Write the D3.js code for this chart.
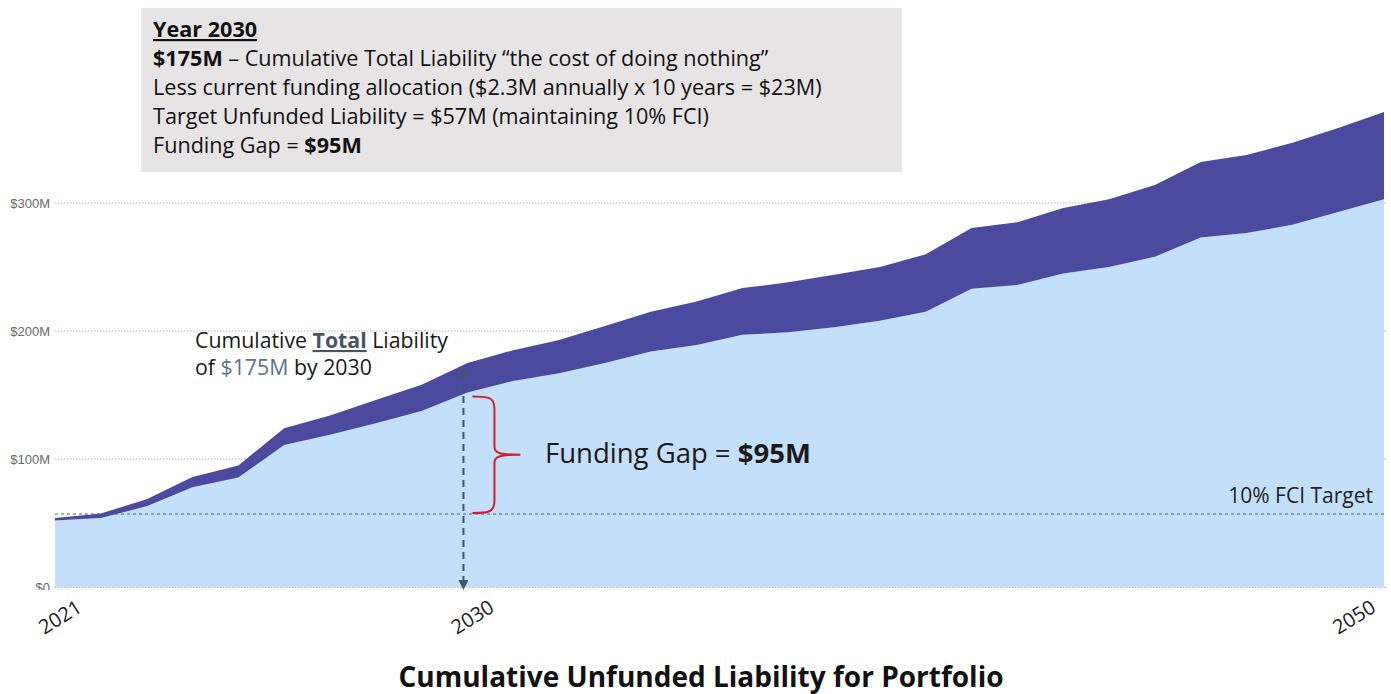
<!DOCTYPE html>
<html><head><meta charset="utf-8">
<script src="https://cdn.jsdelivr.net/npm/d3@7"></script>
<style>
html,body{margin:0;padding:0;background:#fff;}
svg{display:block;}
</style></head>
<body>
<svg id="c" width="1391" height="694"></svg>
<script>
// ---- data (values in $M) ----
const years = d3.range(2021, 2051);
const totalLiability = [54,57.5,68.5,86,95,124,134,146,158,175,
  185,193,204,215,223,233.5,238,244,250,260,
  280.5,285,296,303,314,332,337.5,347,358.5,371];
const unfundedAfterFunding = [52,54,63,78,85.5,111,119,128,137.5,152,
  161,167,175,184,189,197,199,203,208,215,
  233,236,245,250,258,273,276.5,283,293,303];
const yTicks = [0,100,200,300];
const yTickLabels = ["$0","$100M","$200M","$300M"];
const xTickYears = [2021,2030,2050];
const fciTarget = 57;
const focusYear = 2030;

const FONT = "'Open Sans', Lato, sans-serif";
const svg = d3.select("#c");
const x = d3.scaleLinear().domain([2021,2050]).range([55,1384]);
const y = d3.scaleLinear().domain([0,300]).range([587,203]);

const rows = years.map((yr,i)=>({yr, top: totalLiability[i], bot: unfundedAfterFunding[i]}));

const defs = svg.append("defs");
defs.append("clipPath").attr("id","ylab").append("rect")
  .attr("x",0).attr("y",0).attr("width",60).attr("height",590);

// gridlines
svg.append("g").selectAll("line").data(yTicks.filter(d=>d>0)).join("line")
  .attr("x1",55).attr("x2",1386).attr("y1",d=>y(d)).attr("y2",d=>y(d))
  .attr("stroke","#b8b8b8").attr("stroke-width",1).attr("stroke-dasharray","1.5,1.5");

// areas
svg.append("path").datum(rows)
  .attr("d", d3.area().x(d=>x(d.yr)).y0(y(0)).y1(d=>y(d.bot)))
  .attr("fill","#c4dff9");
svg.append("path").datum(rows)
  .attr("d", d3.area().x(d=>x(d.yr)).y0(d=>y(d.bot)).y1(d=>y(d.top)))
  .attr("fill","#4c4a9e");

// zero line
svg.append("line").attr("x1",55).attr("x2",1386).attr("y1",y(0)+0.5).attr("y2",y(0)+0.5)
  .attr("stroke","#a9b8c8").attr("stroke-width",1).attr("stroke-dasharray","1.5,1.5");

// y labels
svg.append("g").attr("clip-path","url(#ylab)").selectAll("text").data(yTicks).join("text")
  .attr("x",50).attr("y",d=>y(d)+5).attr("text-anchor","end")
  .attr("font-family","Liberation Sans, Arial, sans-serif").attr("font-size",13)
  .attr("fill","#6a6a6a").text((d,i)=>yTickLabels[i]);

// x labels
svg.append("g").selectAll("text").data(xTickYears).join("text")
  .attr("transform", d=>{ const cx = Math.min(1354, x(d)+5); return `translate(${cx},617) rotate(-32)`; })
  .attr("text-anchor","middle").attr("dy","0.35em")
  .attr("font-family",FONT).attr("font-size",20)
  .attr("fill","#1a1a1a").text(d=>d);

// FCI target line
svg.append("line").attr("x1",55).attr("x2",1384).attr("y1",y(fciTarget)).attr("y2",y(fciTarget))
  .attr("stroke","#4a6282").attr("stroke-width",1).attr("stroke-dasharray","3,3");
svg.append("text").attr("x",1373).attr("y",y(fciTarget)-11).attr("text-anchor","end")
  .attr("font-family",FONT).attr("font-size",21).attr("fill","#1f1f1f")
  .text("10% FCI Target");

// dashed arrow at focus year
const fx = x(focusYear)-4;
const topFocus = totalLiability[years.indexOf(focusYear)];
defs.append("marker").attr("id","ah").attr("viewBox","0 0 10 10").attr("refX",5).attr("refY",5)
  .attr("markerWidth",5).attr("markerHeight",5).attr("orient","auto-start-reverse")
  .append("path").attr("d","M0,0L10,5L0,10z").attr("fill","#44546a");
svg.append("line").attr("x1",fx).attr("x2",fx).attr("y1",y(topFocus)+9).attr("y2",y(0)-2)
  .attr("stroke","#44546a").attr("stroke-width",2).attr("stroke-dasharray","7,5")
  .attr("marker-start","url(#ah)").attr("marker-end","url(#ah)");

// red brace
const bTop = y(unfundedAfterFunding[years.indexOf(focusYear)])+4, bBot = y(fciTarget)-1;
const bMid = (bTop+bBot)/2, bx = fx+9;
svg.append("path")
  .attr("d",`M${bx},${bTop} C${bx+14},${bTop} ${bx+22},${bTop} ${bx+22},${bTop+12} L${bx+22},${bMid-8} C${bx+22},${bMid-2} ${bx+26},${bMid} ${bx+48},${bMid} C${bx+26},${bMid} ${bx+22},${bMid+2} ${bx+22},${bMid+8} L${bx+22},${bBot-12} C${bx+22},${bBot} ${bx+14},${bBot} ${bx},${bBot}`)
  .attr("fill","none").attr("stroke","#d21f2b").attr("stroke-width",2);

// Funding gap label
const fg = svg.append("text").attr("x",545).attr("y",bMid+8)
  .attr("font-family",FONT).attr("font-size",27.5).attr("fill","#1a1a1a");
fg.append("tspan").text("Funding Gap = ");
fg.append("tspan").attr("font-weight","bold").text("$95M");

// cumulative total annotation
const a1 = svg.append("text").attr("x",195).attr("y",348)
  .attr("font-family",FONT).attr("font-size",21.3).attr("fill","#1a1a1a");
a1.append("tspan").text("Cumulative ");
a1.append("tspan").attr("font-weight","bold").attr("fill","#44546a").attr("text-decoration","underline").text("Total");
a1.append("tspan").text(" Liability");
const a2 = svg.append("text").attr("x",195).attr("y",375)
  .attr("font-family",FONT).attr("font-size",21.3).attr("fill","#1a1a1a");
a2.append("tspan").text("of ");
a2.append("tspan").attr("fill","#5a7290").text("$175M");
a2.append("tspan").text(" by 2030");

// info box
svg.append("rect").attr("x",141).attr("y",8).attr("width",761).attr("height",164)
  .attr("fill","#e6e4e5");
const lines = [
  [{t:"Year 2030", b:true, u:true}],
  [{t:"$175M", b:true},{t:" – Cumulative Total Liability “the cost of doing nothing”"}],
  [{t:"Less current funding allocation ($2.3M annually x 10 years = $23M)"}],
  [{t:"Target Unfunded Liability = $57M (maintaining 10% FCI)"}],
  [{t:"Funding Gap = "},{t:"$95M", b:true}]
];
lines.forEach((ln,i)=>{
  const t = svg.append("text").attr("x",153).attr("y",37+i*29)
    .attr("font-family",FONT).attr("font-size",21.6).attr("fill","#111");
  ln.forEach(s=>{
    const sp = t.append("tspan").text(s.t);
    if(s.b) sp.attr("font-weight","bold");
    if(s.u) sp.attr("text-decoration","underline");
  });
});

// title
svg.append("text").attr("x",701).attr("y",687).attr("text-anchor","middle")
  .attr("font-family",FONT).attr("font-weight","bold").attr("font-size",28)
  .attr("fill","#111").text("Cumulative Unfunded Liability for Portfolio");
</script>
</body></html>
